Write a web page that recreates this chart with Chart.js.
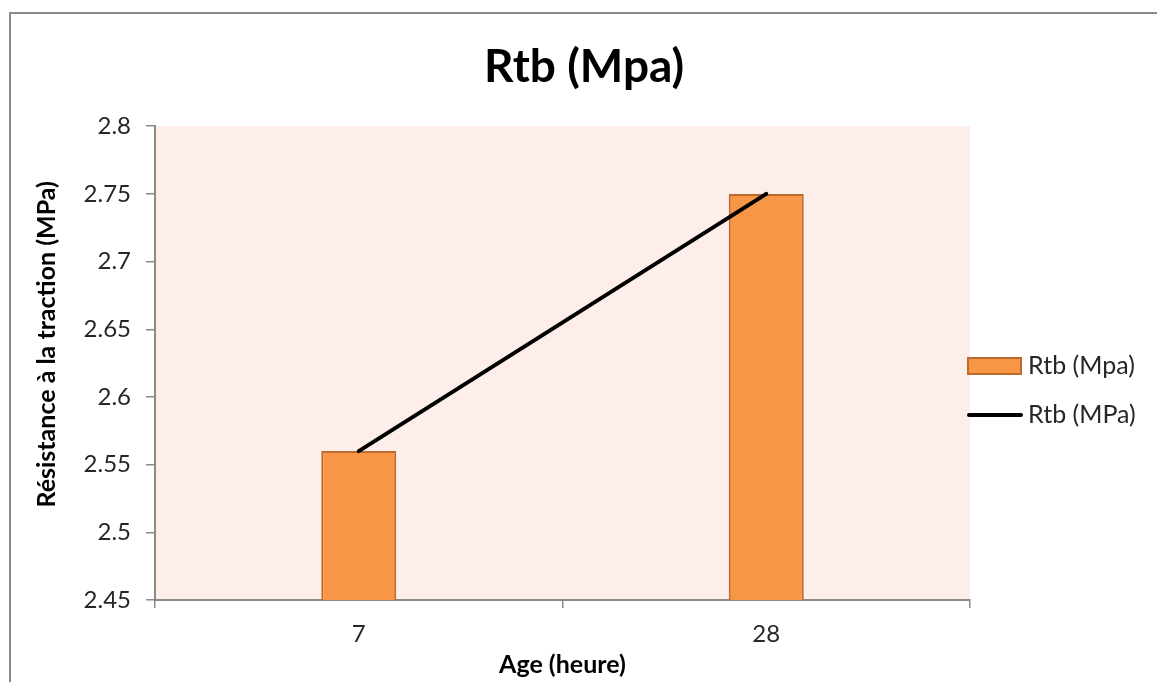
<!DOCTYPE html>
<html>
<head>
<meta charset="utf-8">
<script src="https://cdn.jsdelivr.net/npm/chart.js@4/dist/chart.umd.min.js"></script>
<style>
  body { margin: 0; background: #fff; }
  #frame { position: absolute; left: 9px; top: 12px; width: 1200px; height: 720px;
           border-left: 2px solid #8a8a8a; border-top: 2px solid #8a8a8a; }
  #wrap { position: absolute; left: 0; top: 0; width: 1157px; height: 682px; }
</style>
</head>
<body>
<div id="frame"></div>
<div id="wrap"><canvas id="rtb"></canvas></div>
<script>
const ages = ['7', '28'];
const rtbBars = [2.56, 2.75];
const rtbLine = [2.56, 2.75];
const yTicks = [2.45, 2.5, 2.55, 2.6, 2.65, 2.7, 2.75, 2.8];

const fontName = 'Lato';

// pink plot area
const plotBg = {
  id: 'plotBg',
  beforeDraw(chart) {
    const a = chart.chartArea, ctx = chart.ctx;
    ctx.save();
    ctx.fillStyle = '#fdeeea';
    ctx.fillRect(a.left, a.top, a.right - a.left, a.bottom - a.top);
    ctx.restore();
  }
};

// legend drawn by hand, so it sits right next to the plot like in excel
const sideLegend = {
  id: 'sideLegend',
  afterDraw(chart) {
    const ctx = chart.ctx;
    const x = chart.chartArea.right - 2;
    const rows = [366, 415];
    ctx.save();
    ctx.font = '25px ' + fontName;
    ctx.textBaseline = 'middle';
    chart.data.datasets.forEach((ds, i) => {
      const y = rows[i];
      if (ds.type === 'bar') {
        ctx.fillStyle = ds.backgroundColor;
        ctx.fillRect(x, y - 8, 53, 16);
        ctx.strokeStyle = ds.borderColor;
        ctx.lineWidth = 2;
        ctx.strokeRect(x, y - 8, 53, 16);
      } else {
        ctx.strokeStyle = ds.borderColor;
        ctx.lineWidth = 4;
        ctx.lineCap = 'round';
        ctx.beginPath();
        ctx.moveTo(x + 1, y);
        ctx.lineTo(x + 53, y);
        ctx.stroke();
      }
      ctx.fillStyle = '#262626';
      ctx.fillText(ds.label, x + 60, y);
    });
    ctx.restore();
  }
};

new Chart(document.getElementById('rtb').getContext('2d'), {
  data: {
    labels: ages,
    datasets: [{
      type: 'bar',
      label: 'Rtb (Mpa)',
      data: rtbBars,
      backgroundColor: '#f79646',
      borderColor: '#bd6b2c',
      borderWidth: 2,
      barPercentage: 0.184,
      categoryPercentage: 1,
      order: 2
    }, {
      type: 'line',
      label: 'Rtb (MPa)',
      data: rtbLine,
      borderColor: '#000',
      borderWidth: 4,
      pointRadius: 0,
      tension: 0,
      borderCapStyle: 'round',
      order: 1
    }]
  },
  options: {
    responsive: true,
    maintainAspectRatio: false,
    animation: false,
    layout: { padding: 0 },
    plugins: {
      legend: { display: false },
      tooltip: { enabled: false },
      title: {
        display: true,
        text: ' Rtb (Mpa)',
        color: '#000',
        font: { family: fontName, size: 46, weight: 'bold' },
        padding: { top: 40, bottom: 31 }
      }
    },
    scales: {
      x: {
        offset: true,
        grid: { offset: true, drawOnChartArea: false, tickLength: 8, color: '#8a8a8a', lineWidth: 1.5 },
        border: { color: '#8a8a8a', width: 2 },
        ticks: { color: '#262626', padding: 12, font: { family: fontName, size: 24 } },
        title: {
          display: true,
          text: 'Age (heure)',
          color: '#000',
          font: { family: fontName, size: 25, weight: 'bold' },
          padding: { top: 0, bottom: 2 }
        },
        afterFit(s) { s.height = 82; }
      },
      y: {
        min: 2.45,
        max: 2.8,
        afterBuildTicks(s) { s.ticks = yTicks.map(v => ({ value: v })); },
        grid: { drawOnChartArea: false, tickLength: 9, color: '#8a8a8a', lineWidth: 1.5 },
        border: { color: '#8a8a8a', width: 2 },
        ticks: {
          color: '#262626',
          padding: 15,
          font: { family: fontName, size: 24 },
          callback: v => String(+v.toFixed(2))
        },
        title: {
          display: true,
          // en spaces push the title up a bit, excel centres it higher
          text: '\u2002\u2002\u2002Résistance à la traction (MPa)',
          color: '#000',
          font: { family: fontName, size: 25, weight: 'bold' },
          padding: { top: 32, bottom: 0 }
        },
        afterFit(s) { s.width = 155; }
      },
      // empty axis on the right just to keep room for the legend
      yRight: {
        position: 'right',
        display: true,
        min: 2.45,
        max: 2.8,
        grid: { display: false },
        border: { display: false },
        ticks: { display: false },
        afterFit(s) { s.width = 187; }
      }
    }
  },
  plugins: [plotBg, sideLegend]
});
</script>
</body>
</html>
